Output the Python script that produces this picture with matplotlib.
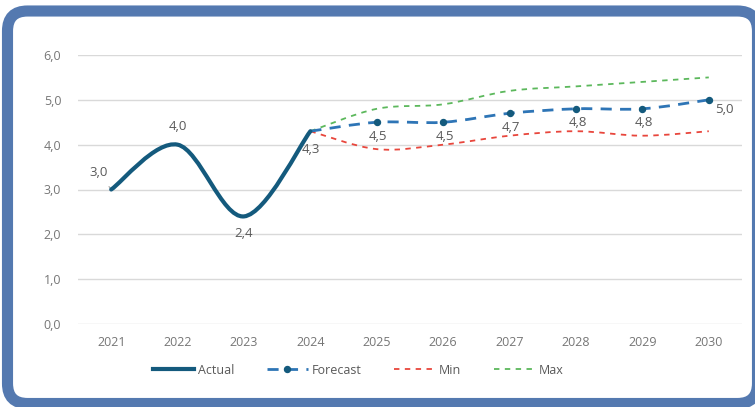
import matplotlib
matplotlib.use('Agg')
import matplotlib.pyplot as plt
from matplotlib.path import Path
from matplotlib.patches import PathPatch, FancyBboxPatch
from matplotlib.lines import Line2D
from matplotlib.ticker import FuncFormatter
from matplotlib.transforms import IdentityTransform

# data
years = [2021, 2022, 2023, 2024, 2025, 2026, 2027, 2028, 2029, 2030]
actual_years = [2021, 2022, 2023, 2024]
actual = [3.0, 4.0, 2.4, 4.3]
fc_years = [2024, 2025, 2026, 2027, 2028, 2029, 2030]
forecast = [4.3, 4.5, 4.5, 4.7, 4.8, 4.8, 5.0]
fc_min = [4.3, 3.9, 4.0, 4.2, 4.3, 4.2, 4.3]
fc_max = [4.3, 4.8, 4.9, 5.2, 5.3, 5.4, 5.5]

C_ACTUAL = '#145a7d'
C_FC = '#2e75b6'
C_MIN = '#e8463c'
C_MAX = '#5cb85c'
C_TEXT = '#595959'
C_TICK = '#767676'
C_FRAME = '#5479b0'

plt.rcParams['font.family'] = ['Open Sans', 'DejaVu Sans']


def comma(v, pos=None):
    return '{:.1f}'.format(v).replace('.', ',')


def smooth_path(xs, ys):
    # excel-like smoothed line: cubic bezier through every point
    pts = list(zip(xs, ys))
    n = len(pts)
    verts = [pts[0]]
    codes = [Path.MOVETO]
    for i in range(n - 1):
        p0 = pts[i - 1] if i > 0 else pts[i]
        p1 = pts[i]
        p2 = pts[i + 1]
        p3 = pts[i + 2] if i + 2 < n else pts[i + 1]
        c1 = (p1[0] + (p2[0] - p0[0]) / 6, p1[1] + (p2[1] - p0[1]) / 6)
        c2 = (p2[0] - (p3[0] - p1[0]) / 6, p2[1] - (p3[1] - p1[1]) / 6)
        verts += [c1, c2, p2]
        codes += [Path.CURVE4] * 3
    return Path(verts, codes)


fig = plt.figure(figsize=(7.55, 4.07), dpi=100)
ax = fig.add_axes([78 / 755, 83 / 407, 664 / 755, 269 / 407])

# rounded blue frame (pixel coordinates), runs off the right and bottom edge
frame = FancyBboxPatch((7.5, 3.5), 750, 392.5, boxstyle='round,pad=0,rounding_size=20',
                       transform=IdentityTransform(), facecolor='white',
                       edgecolor=C_FRAME, linewidth=8, zorder=-10)
fig.patches.append(frame)

ax.set_xlim(2020.5, 2030.5)
ax.set_ylim(0, 6)
ax.set_facecolor('none')
for s in ax.spines.values():
    s.set_visible(False)
ax.set_yticks([0, 1, 2, 3, 4, 5, 6])
ax.yaxis.set_major_formatter(FuncFormatter(comma))
ax.set_xticks(years)
ax.set_xticklabels([str(y) for y in years])
ax.tick_params(length=0, labelsize=9, colors=C_TICK)
ax.tick_params(axis='x', pad=9)
ax.tick_params(axis='y', pad=12)
ax.grid(axis='y', color='#d9d9d9', linewidth=1)
ax.set_axisbelow(True)

ax.add_patch(PathPatch(smooth_path(fc_years, fc_max), fill=False, edgecolor=C_MAX,
                       linewidth=1.3, linestyle=(0, (3, 3)), zorder=3))
ax.add_patch(PathPatch(smooth_path(fc_years, fc_min), fill=False, edgecolor=C_MIN,
                       linewidth=1.3, linestyle=(0, (3, 3)), zorder=3))
ax.add_patch(PathPatch(smooth_path(fc_years, forecast), fill=False, edgecolor=C_FC,
                       linewidth=2, linestyle=(0, (4, 3)), zorder=4))
ax.plot(fc_years[1:], forecast[1:], 'o', color=C_ACTUAL, markersize=4.3, zorder=5)
ax.add_patch(PathPatch(smooth_path(actual_years, actual), fill=False, edgecolor=C_ACTUAL,
                       linewidth=3, capstyle='round', zorder=6))

# data labels
lbl = dict(fontsize=9.5, color=C_TEXT, ha='center', va='center', textcoords='offset points')
ax.annotate(comma(actual[0]), (actual_years[0], actual[0]), xytext=(-9, 12),
            arrowprops=dict(arrowstyle='-', color='#a6a6a6', lw=0.8, shrinkA=4, shrinkB=0), **lbl)
ax.annotate(comma(actual[1]), (actual_years[1], actual[1]), xytext=(0, 13), **lbl)
ax.annotate(comma(actual[2]), (actual_years[2], actual[2]), xytext=(0, -12), **lbl)
ax.annotate(comma(actual[3]), (actual_years[3], actual[3]), xytext=(0, -13), **lbl)
for x, v in zip(fc_years[1:-1], forecast[1:-1]):
    ax.annotate(comma(v), (x, v), xytext=(1, -10), **lbl)
ax.annotate(comma(forecast[-1]), (fc_years[-1], forecast[-1]), xytext=(11, -7), **lbl)

handles = [
    Line2D([], [], color=C_ACTUAL, linewidth=3),
    Line2D([], [], color=C_FC, linewidth=2, linestyle=(0, (4, 3)), marker='o',
           markersize=4.3, markerfacecolor=C_ACTUAL, markeredgecolor=C_ACTUAL),
    Line2D([], [], color=C_MIN, linewidth=1.3, linestyle=(0, (3, 3))),
    Line2D([], [], color=C_MAX, linewidth=1.3, linestyle=(0, (3, 3))),
]
fig.legend(handles, ['Actual', 'Forecast', 'Min', 'Max'], loc='center',
           bbox_to_anchor=(358 / 755, 1 - 370 / 407), ncol=4, frameon=False,
           fontsize=9, labelcolor=C_TEXT, handlelength=3.3, handletextpad=0.3,
           columnspacing=2.6, numpoints=1)

fig.savefig('out.png', dpi=100)
